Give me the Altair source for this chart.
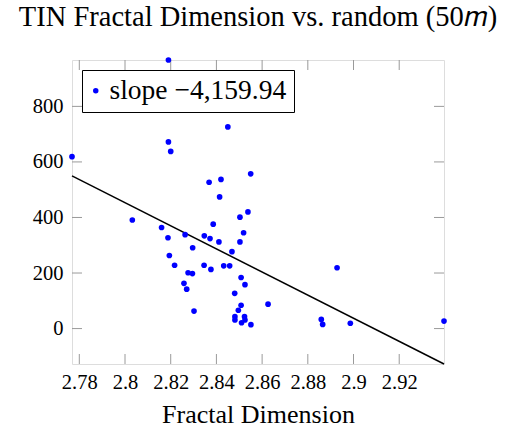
import altair as alt
import pandas as pd

# data
fd = [2.819, 2.7768, 2.845, 2.819, 2.820, 2.855, 2.8368, 2.842, 2.8414,
      2.8032, 2.8538, 2.8503, 2.8386, 2.816, 2.8519, 2.8188, 2.8263, 2.8347,
      2.8372, 2.8411, 2.8503, 2.8296, 2.8468, 2.8194, 2.8217, 2.8346, 2.8376,
      2.8432, 2.8458, 2.8276, 2.8295, 2.8508, 2.8258, 2.827, 2.8525, 2.848,
      2.8302, 2.8626, 2.8508, 2.8496, 2.8481, 2.8481, 2.8523, 2.8525, 2.851,
      2.8551, 2.8928, 2.8859, 2.8865, 2.8986, 2.9396]
rnd = [967, 619, 726, 672, 638, 557, 527, 537, 474,
       391, 420, 401, 376, 364, 345, 327, 338, 334,
       324, 312, 312, 291, 277, 263, 228, 228, 213,
       226, 226, 201, 198, 184, 163, 142, 158, 127,
       63, 88, 84, 66, 43, 31, 43, 31, 21,
       14, 219, 33, 15, 19, 27]
slope = -4159.94
intercept = 12101.0
legend_label = "slope \u22124,159.94"
title_text = "TIN Fractal Dimension vs. random (50\U0001D45A)"
x_ticks = [2.78, 2.8, 2.82, 2.84, 2.86, 2.88, 2.9, 2.92]
y_ticks = [0, 200, 400, 600, 800]

W, H = 372, 304
FONT = "Liberation Serif"

xmin, xmax = min(fd), max(fd)
ymax = max(rnd)
ymin = intercept + slope * xmax

pts = pd.DataFrame({"fd": fd, "rnd": rnd, "series": [legend_label] * len(fd)})
line_df = pd.DataFrame({"fd": [xmin, xmax],
                        "rnd": [intercept + slope * xmin, intercept + slope * xmax]})
xt = pd.DataFrame({"fd": x_ticks})
yt = pd.DataFrame({"rnd": y_ticks})

xscale = alt.Scale(domain=[xmin, xmax], nice=False, zero=False)
yscale = alt.Scale(domain=[ymin, ymax], nice=False, zero=False)

xaxis = alt.Axis(values=x_ticks, format="~g", title="Fractal Dimension",
                 domain=False, ticks=False, grid=False, labelFont=FONT,
                 labelFontSize=20.5, labelColor="black", labelPadding=8,
                 titleFont=FONT, titleFontSize=26, titleFontWeight="normal",
                 titleColor="black", titlePadding=9, labelFlush=False)
yaxis = alt.Axis(values=y_ticks, format="d", title=None,
                 domain=False, ticks=False, grid=False, labelFont=FONT,
                 labelFontSize=20.5, labelColor="black", labelPadding=9)

points = alt.Chart(pts).mark_circle(size=32, opacity=1).encode(
    x=alt.X("fd:Q", scale=xscale, axis=xaxis),
    y=alt.Y("rnd:Q", scale=yscale, axis=yaxis),
    color=alt.Color("series:N", scale=alt.Scale(range=["#0000ff"]),
                    legend=alt.Legend(title=None, orient="top-left", offset=10,
                                      labelFont=FONT, labelFontSize=27.5,
                                      labelColor="black", labelLimit=500,
                                      symbolType="circle",
                                      symbolSize=30, strokeColor="black",
                                      fillColor="white", padding=7,
                                      symbolOffset=-7, labelOffset=0)),
)

reg = alt.Chart(line_df).mark_line(color="black", strokeWidth=1.5).encode(
    x=alt.X("fd:Q", scale=xscale),
    y=alt.Y("rnd:Q", scale=yscale),
)

tick_color = "#9a9a9a"
bt = alt.Chart(xt).mark_rule(color=tick_color, strokeWidth=1).encode(
    x=alt.X("fd:Q", scale=xscale), y=alt.value(H), y2=alt.value(H - 10))
tt = alt.Chart(xt).mark_rule(color=tick_color, strokeWidth=1).encode(
    x=alt.X("fd:Q", scale=xscale), y=alt.value(0), y2=alt.value(10))
lt = alt.Chart(yt).mark_rule(color=tick_color, strokeWidth=1).encode(
    y=alt.Y("rnd:Q", scale=yscale), x=alt.value(0), x2=alt.value(10))
rt = alt.Chart(yt).mark_rule(color=tick_color, strokeWidth=1).encode(
    y=alt.Y("rnd:Q", scale=yscale), x=alt.value(W), x2=alt.value(W - 10))

chart = alt.layer(bt, tt, lt, rt, reg, points).properties(
    width=W, height=H,
    title=alt.Title(title_text, font=FONT,
                    fontSize=28.5, fontWeight="normal", color="black",
                    anchor="middle", offset=26),
    autosize=alt.AutoSizeParams(type="none"),
    padding={"left": 72, "top": 60, "right": 63, "bottom": 68},
).configure_view(stroke="black", strokeWidth=1.2).configure(background="white")

chart.save("out.html", embed_options={"renderer": "svg", "actions": False})
